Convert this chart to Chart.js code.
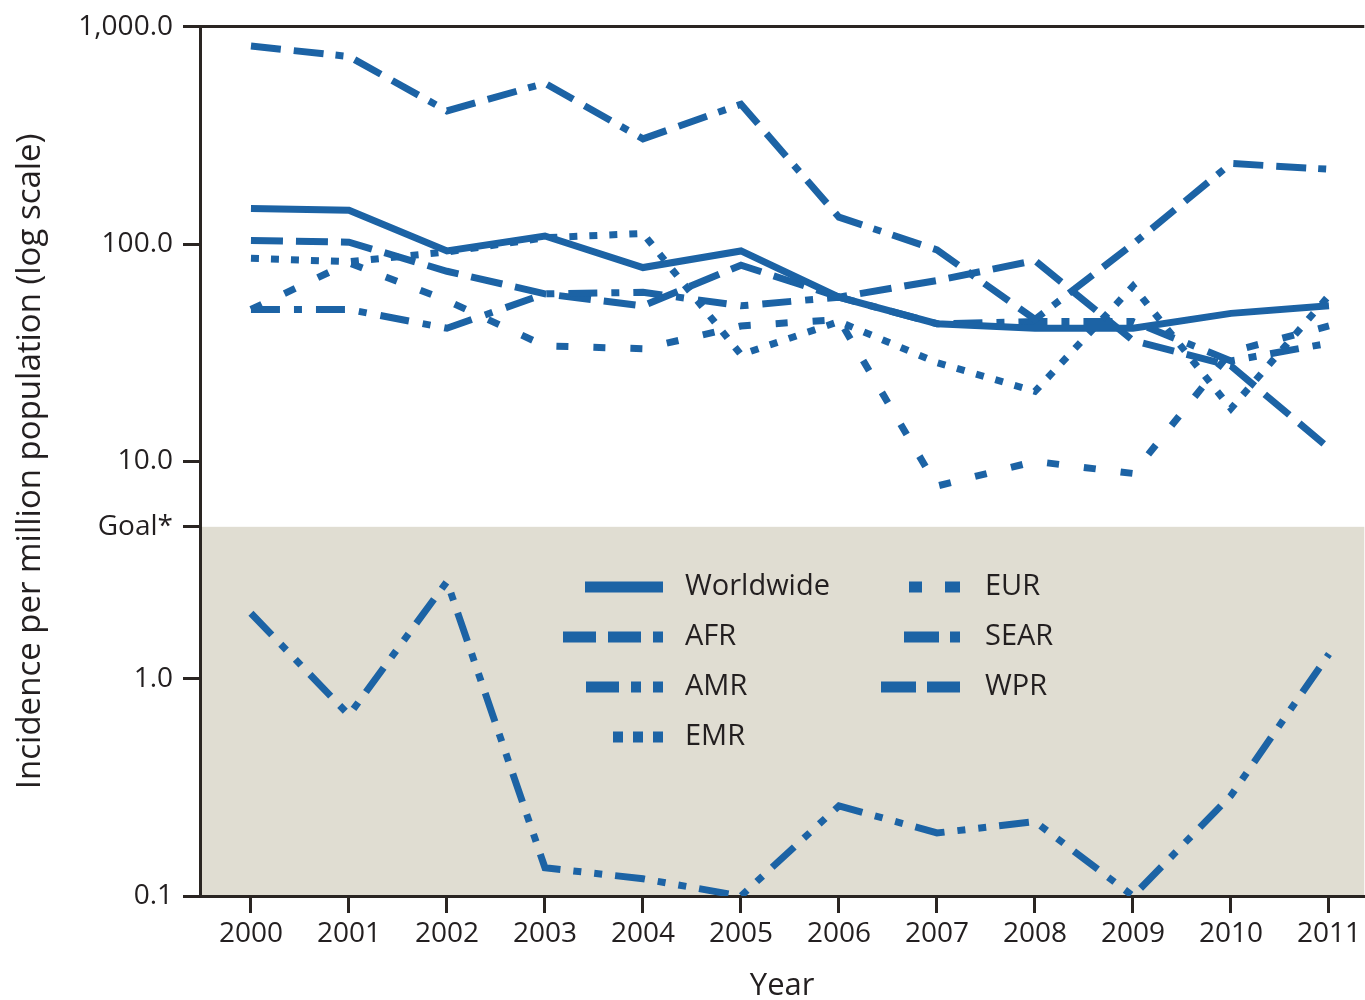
<!DOCTYPE html>
<html>
<head>
<meta charset="utf-8">
<script src="https://cdn.jsdelivr.net/npm/chart.js@4.4.1/dist/chart.umd.min.js"></script>
<style>
  html, body { margin: 0; padding: 0; background: #ffffff; overflow: hidden; }
  #wrap { width: 1365px; height: 1000px; position: relative; }
</style>
</head>
<body>
<div id="wrap"><canvas id="chart" width="1365" height="1000"></canvas></div>
<script>
// Measles incidence per million population, by WHO region, 2000-2011
const years = [2000, 2001, 2002, 2003, 2004, 2005, 2006, 2007, 2008, 2009, 2010, 2011];

const worldwide = [146, 143, 93, 109, 78, 93, 57, 43, 41, 41, 48, 52];
const afr       = [815, 730, 410, 550, 305, 440, 133, 94, 45, 100, 235, 221];
const amr       = [2.0, 0.68, 2.8, 0.135, 0.12, 0.1, 0.26, 0.195, 0.22, 0.1, 0.29, 1.3];
const emr       = [86, 83, 92, 107, 112, 31, 44, 28.5, 21, 64, 17.5, 58];
const eur       = [50, 82, 55, 34, 33, 42, 45, 7.7, 10, 8.8, 32, 42];
const sear      = [50, 50, 41, 59, 60, 52, 57, 43, 44, 44, 29, 35];
const wpr       = [104, 102, 75, 59, 52, 80, 57, 68, 84, 36, 27.5, 11.5];

const seriesNames  = ['Worldwide', 'AFR', 'AMR', 'EMR', 'EUR', 'SEAR', 'WPR'];
const seriesValues = [worldwide, afr, amr, emr, eur, sear, wpr];

const yTickValues = [0.1, 1, 5, 10, 100, 1000];
const yTickLabels = ['0.1', '1.0', 'Goal*', '10.0', '100.0', '1,000.0'];
const goalValue = 5;

// ---- styling ----
const FONT = "'Open Sans', 'Noto Sans', sans-serif";
const TEXT = '#231f20';
const AXIS = '#2a2522';
const LINE = '#1c63a5';
const SHADE = '#e0ddd2';

const dashStyles = {
  Worldwide: [],
  AFR:  [30, 13, 30, 12, 8, 12],
  AMR:  [30, 13, 8, 13, 8, 13],
  EMR:  [8, 12],
  EUR:  [12, 25],
  SEAR: [29, 14, 8, 14],
  WPR:  [32, 13]
};

// legend key segments (dash, gap, dash, ...), drawn right-aligned
const legendKeys = {
  Worldwide: [78],
  AFR:  [33, 12, 33, 12, 10],
  AMR:  [33, 12, 10, 12, 10],
  EMR:  [10, 10, 10, 10, 10],
  EUR:  [13, 23, 15],
  SEAR: [35, 11, 10],
  WPR:  [35, 11, 33]
};
const legendLayout = {
  columns: [{ keyRight: 663, textX: 685, items: 4 }, { keyRight: 960, textX: 985, items: 3 }],
  firstRowY: 587, rowGap: 50, keyThickness: 11, fontSize: 29
};

const goalShade = {
  id: 'goalShade',
  beforeDraw(chart) {
    const { ctx, chartArea, scales } = chart;
    const yTop = scales.y.getPixelForValue(goalValue);
    ctx.save();
    ctx.fillStyle = SHADE;
    ctx.fillRect(chartArea.left, yTop, chartArea.right - chartArea.left, chartArea.bottom - yTop);
    ctx.restore();
  }
};

const regionLegend = {
  id: 'regionLegend',
  afterDatasetsDraw(chart) {
    const { ctx } = chart;
    const L = legendLayout;
    const names = chart.data.datasets.map(d => d.label);
    let idx = 0;
    ctx.save();
    ctx.font = L.fontSize + 'px ' + FONT;
    ctx.textBaseline = 'middle';
    ctx.textAlign = 'left';
    L.columns.forEach(col => {
      for (let r = 0; r < col.items; r++, idx++) {
        const name = names[idx];
        const y = L.firstRowY + r * L.rowGap;
        const segs = legendKeys[name];
        const total = segs.reduce((a, b) => a + b, 0);
        let x = col.keyRight - total;
        ctx.fillStyle = LINE;
        segs.forEach((len, k) => {
          if (k % 2 === 0) ctx.fillRect(x, y - L.keyThickness / 2, len, L.keyThickness);
          x += len;
        });
        ctx.fillStyle = TEXT;
        ctx.fillText(name, col.textX, y);
      }
    });
    ctx.restore();
  }
};

const datasets = seriesNames.map((name, i) => ({
  label: name,
  data: years.map((yr, j) => ({ x: yr, y: seriesValues[i][j] })),
  borderColor: LINE,
  backgroundColor: LINE,
  borderWidth: 7,
  borderDash: dashStyles[name],
  borderCapStyle: 'butt',
  borderJoinStyle: 'miter',
  pointRadius: 0,
  tension: 0,
  fill: false
}));

new Chart(document.getElementById('chart'), {
  type: 'line',
  data: { datasets },
  plugins: [goalShade, regionLegend],
  options: {
    responsive: false,
    devicePixelRatio: 1,
    animation: false,
    layout: { padding: { top: 25, right: 0, bottom: 0, left: 0 } },
    plugins: { legend: { display: false }, tooltip: { enabled: false } },
    scales: {
      x: {
        type: 'linear',
        min: 1999.48,
        max: 2011.36,
        afterBuildTicks: s => { s.ticks = years.map(v => ({ value: v })); },
        afterFit: s => { s.height = 104; },
        ticks: {
          callback: v => String(v),
          font: { family: FONT, size: 28 },
          color: TEXT,
          padding: 4,
          maxRotation: 0,
          autoSkip: false
        },
        grid: { drawOnChartArea: false, drawTicks: true, tickLength: 17, tickColor: AXIS, lineWidth: 3 },
        border: { display: true, color: AXIS, width: 3 },
        title: { display: true, text: 'Year', font: { family: FONT, size: 31, lineHeight: 0.87 }, color: TEXT, padding: { top: 0, bottom: 0 } }
      },
      y: {
        type: 'logarithmic',
        min: 0.1,
        max: 1000,
        afterBuildTicks: s => { s.ticks = yTickValues.map(v => ({ value: v })); },
        afterFit: s => { s.width = 200; },
        ticks: {
          callback: (v, i) => yTickLabels[i],
          font: { family: FONT, size: 28 },
          color: TEXT,
          padding: 10,
          autoSkip: false
        },
        grid: {
          drawOnChartArea: true,
          drawTicks: true,
          tickLength: 17,
          tickColor: AXIS,
          lineWidth: 3,
          color: c => (c.tick && c.tick.value === 1000 ? AXIS : 'rgba(0,0,0,0)')
        },
        border: { display: true, color: AXIS, width: 3 },
        title: { display: true, text: 'Incidence per million population (log scale)', font: { family: FONT, size: 33 }, color: TEXT, padding: { top: 11, bottom: 0 } }
      }
    }
  }
});
</script>
</body>
</html>
